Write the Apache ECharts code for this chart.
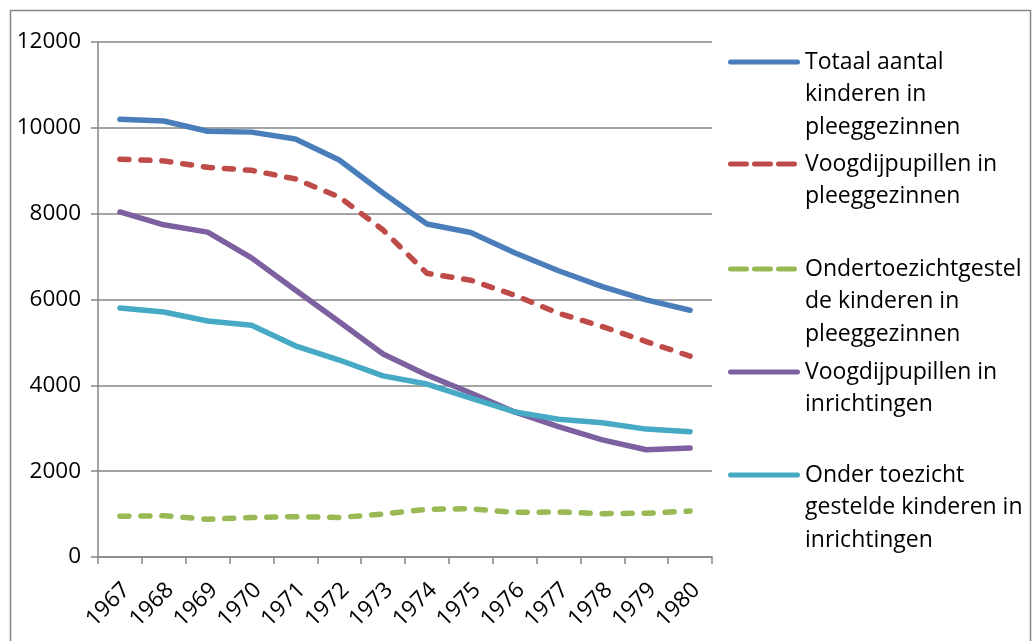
<!DOCTYPE html>
<html><head><meta charset="utf-8">
<script src="https://cdn.jsdelivr.net/npm/echarts@6/dist/echarts.min.js"></script>
<style>html,body{margin:0;padding:0;background:#fff}#c{width:1035px;height:641px}</style>
</head><body><div id="c"></div>
<script>
const years = ['1967','1968','1969','1970','1971','1972','1973','1974','1975','1976','1977','1978','1979','1980'];
const yTicks = [0,2000,4000,6000,8000,10000,12000];
const totaalPleeg = [10200,10160,9920,9900,9740,9250,8480,7760,7560,7090,6670,6300,5990,5750];
const voogdPleeg = [9270,9230,9080,9010,8810,8390,7620,6610,6450,6100,5680,5370,5020,4680];
const otsPleeg = [950,960,880,920,940,920,1000,1110,1125,1040,1050,1010,1020,1070];
const voogdInr = [8040,7740,7570,6970,6220,5480,4730,4240,3820,3380,3040,2730,2500,2540];
const otsInr = [5800,5710,5500,5400,4920,4590,4220,4030,3700,3380,3210,3130,2980,2920];
const names = ['Totaal aantal\nkinderen in\npleeggezinnen','Voogdijpupillen in\npleeggezinnen','Ondertoezichtgestel\nde kinderen in\npleeggezinnen','Voogdijpupillen in\ninrichtingen','Onder toezicht\ngestelde kinderen in\ninrichtingen'];
const colors = ['#4A7EBB','#BE4B48','#98B954','#7D60A0','#46AAC5'];
const dashed = [false,true,true,false,false];
const seriesData = [totaalPleeg,voogdPleeg,otsPleeg,voogdInr,otsInr];

const LH = 32.5;
const iconCenters = [62,164,269,372,475];
const solidIcon = 'path://M2.5,0 L69.5,0 A2.5,2.5 0 0 1 69.5,5 L2.5,5 A2.5,2.5 0 0 1 2.5,0 Z';
const dashIcon = 'path://M2.5,0 L18.5,0 A2.5,2.5 0 0 1 18.5,5 L2.5,5 A2.5,2.5 0 0 1 2.5,0 Z M26.5,0 L42.5,0 A2.5,2.5 0 0 1 42.5,5 L26.5,5 A2.5,2.5 0 0 1 26.5,0 Z M50.5,0 L66.5,0 A2.5,2.5 0 0 1 66.5,5 L50.5,5 A2.5,2.5 0 0 1 50.5,0 Z M71.9,0 L72,0 L72,5 L71.9,5 Z';
const legends = names.map((n,i)=>{
  const lines = n.split('\n').length;
  return {
    data:[{name:n, icon: dashed[i]?dashIcon:solidIcon, itemStyle:{color:colors[i], opacity:1}}],
    left:728, top: iconCenters[i] - (2*lines-1)*LH/2, orient:'vertical',
    itemWidth:72, itemHeight:5, itemGap:0, padding:0,
    formatter: (nm)=> '\n'.repeat(lines-1) + nm,
    textStyle:{fontFamily:'Open Sans', fontSize:23, color:'#000', lineHeight:LH}
  };
});

const chart = echarts.init(document.getElementById('c'), null, {renderer:'canvas'});
chart.setOption({
  animation:false,
  graphic:[{type:'rect', shape:{x:10.5,y:10.5,width:1020,height:650}, style:{fill:'none', stroke:'#868686', lineWidth:1.5}, silent:true}],
  grid:{left:98, top:42, right:323, bottom:84},
  legend: legends,
  xAxis:{type:'category', data:years, boundaryGap:true,
    axisLine:{lineStyle:{color:'#868686', width:1.5}},
    axisTick:{show:true, length:7, lineStyle:{color:'#868686', width:1.5}},
    axisLabel:{rotate:45, fontFamily:'Open Sans', fontSize:22.5, color:'#000', margin:36, interval:0, padding:[0,-9,0,0]}},
  yAxis:{type:'value', min:yTicks[0], max:yTicks[yTicks.length-1], interval:yTicks[1]-yTicks[0],
    axisLine:{show:true, lineStyle:{color:'#868686', width:1.5}},
    axisTick:{show:true, length:7, lineStyle:{color:'#868686', width:1.5}},
    splitLine:{lineStyle:{color:'#868686', width:1.5}},
    axisLabel:{fontFamily:'Open Sans', fontSize:22.5, color:'#000', margin:17, formatter:(v)=>String(v)}},
  series: seriesData.map((d,i)=>({
    name:names[i], type:'line', data:d, symbol:'none', smooth:false,
    lineStyle:{color:colors[i], width:5.5, type: dashed[i]?[9,12]:'solid', cap:'round', join:'round'},
    itemStyle:{color:colors[i]}
  }))
});
</script></body></html>
